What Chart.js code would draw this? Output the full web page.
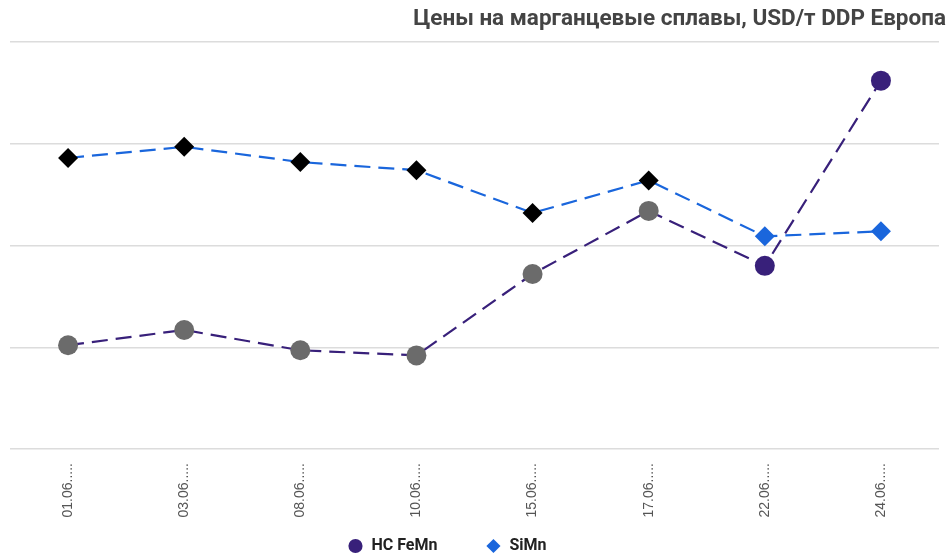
<!DOCTYPE html>
<html>
<head>
<meta charset="utf-8">
<script src="https://cdn.jsdelivr.net/npm/chart.js@4.4.0/dist/chart.umd.min.js"></script>
<style>
  html, body { margin: 0; padding: 0; background: #fff; }
  #wrap { width: 949px; height: 558px; }
</style>
</head>
<body>
<div id="wrap"><canvas id="myChart" width="949" height="558"></canvas></div>
<script>
// data (y scale hidden, values approximate)
const categories = ['01.06', '03.06', '08.06', '10.06', '15.06', '17.06', '22.06', '24.06'];
const hcFeMn = [1102, 1117, 1097, 1092, 1172, 1234, 1180, 1362];
const siMn = [1286, 1297, 1282, 1274, 1232, 1264, 1209, 1214];
const yTicks = [1000, 1100, 1200, 1300, 1400];

const purple = '#38207a';
const blue = '#1a66dc';
const seriesColors = [purple, blue];
const legendPad = 48;

// short legend box, wide gaps between the items
const legendFit = {
  id: 'legendFit',
  afterInit(chart) {
    const lg = chart.legend;
    const fit = lg.fit;
    lg.fit = function() {
      fit.call(this);
      this.height = 34;
    };
  },
  afterLayout(chart) {
    const lg = chart.legend;
    lg.top = lg.bottom - 20 - legendPad;
    lg.left -= 30;
    lg.right -= 30;
  }
};

const config = {
  type: 'line',
  data: {
    labels: categories,
    datasets: [{
      label: 'HC FeMn',
      data: hcFeMn,
      borderColor: purple,
      borderWidth: 2.2,
      borderDash: [16, 8],
      pointStyle: 'circle',
      pointRadius: 10,
      pointBorderWidth: 0,
      pointBackgroundColor: ['#6b6b6b', '#6b6b6b', '#6b6b6b', '#6b6b6b', '#6b6b6b', '#6b6b6b', purple, purple],
      tension: 0
    }, {
      label: 'SiMn',
      data: siMn,
      borderColor: blue,
      borderWidth: 2.2,
      borderDash: [16, 8],
      pointStyle: 'rectRot',
      pointRadius: 10,
      pointBorderWidth: 0,
      pointBackgroundColor: ['#000', '#000', '#000', '#000', '#000', '#000', blue, blue],
      tension: 0
    }]
  },
  options: {
    responsive: false,
    animation: false,
    layout: { padding: { left: 8, right: 3, top: 0, bottom: 0 } },
    plugins: {
      title: {
        display: true,
        text: 'Цены на марганцевые сплавы, USD/т DDP Европа',
        align: 'end',
        color: '#444',
        font: { family: 'Roboto', size: 22.5, weight: 'bold' },
        padding: { top: 6, bottom: 9 }
      },
      legend: {
        position: 'bottom',
        labels: {
          usePointStyle: true,
          boxWidth: 16,
          boxHeight: 10,
          color: '#222',
          font: { family: 'Roboto', size: 16, weight: 'bold' },
          padding: legendPad,
          generateLabels: function(chart) {
            return Chart.defaults.plugins.legend.labels.generateLabels(chart).map(function(item, i) {
              item.fillStyle = seriesColors[i];
              item.strokeStyle = seriesColors[i];
              item.lineWidth = 0;
              return item;
            });
          }
        }
      },
      tooltip: { enabled: false }
    },
    scales: {
      x: {
        offset: true,
        grid: { display: false },
        border: { display: false },
        ticks: {
          minRotation: 90,
          maxRotation: 90,
          color: '#555',
          font: { family: 'Liberation Sans', size: 14 },
          padding: 6,
          callback: function(v, i) { return categories[i] + '.....'; }
        },
        afterFit: function(axis) { axis.height = 75; }
      },
      y: {
        min: yTicks[0],
        max: yTicks[yTicks.length - 1],
        afterBuildTicks: function(axis) { axis.ticks = yTicks.map(v => ({ value: v })); },
        border: { display: false },
        grid: { color: '#dcdcdc', lineWidth: 1.5, drawTicks: false },
        ticks: { display: false }
      }
    }
  },
  plugins: [legendFit]
};

const myChart = new Chart(document.getElementById('myChart'), config);
</script>
</body>
</html>
